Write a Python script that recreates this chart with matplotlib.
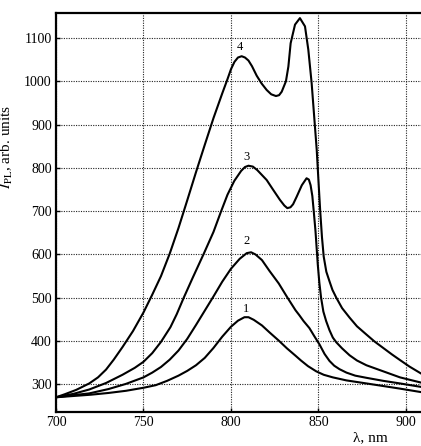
import matplotlib
matplotlib.use('Agg')
import matplotlib.pyplot as plt

plt.rcParams['font.family'] = ['Liberation Serif', 'DejaVu Serif']
plt.rcParams['mathtext.fontset'] = 'stix'
plt.rcParams['font.size'] = 10

# (wavelength nm, intensity arb. units)
x1 = [700, 710, 720, 730, 740, 750, 757, 763.5, 770, 775, 780, 785, 790, 795, 800, 804,
      807.7, 810, 813, 817.7, 822, 827.3, 832, 836.9, 840, 844, 848.7, 853, 858.2, 866,
      877.4, 887, 896.6, 908.6]
y1 = [270, 273, 276, 280, 285, 292, 298, 308, 320, 331, 344, 361, 384, 410, 433, 447,
      455, 455, 449, 436, 420, 401, 383, 366, 355, 342, 330, 322, 316, 309,
      302, 296, 290, 282]

x2 = [700, 710, 719, 730, 740, 750, 755, 760, 765, 770, 775, 780, 785, 790, 795, 800,
      805, 809, 811.5, 814, 817.7, 822, 827.3, 832, 836.9, 839, 841.5, 844.8, 847.5, 850.6,
      853.5, 856.3, 859, 862, 866, 871, 877.4, 887, 896.6, 908.6]
y2 = [270, 275, 279, 289, 301, 316, 327, 340, 357, 378, 405, 437, 470, 503, 537, 567,
      590, 603, 605, 600, 587, 562, 533, 502, 471, 460, 446, 430, 412, 392,
      370, 354, 343, 335, 327, 320, 315, 308, 302, 294]

x3 = [700, 710, 719, 728.6, 738, 745, 750, 755, 760, 765.4, 769, 773, 778, 784.6, 790, 794.2,
      798, 801.9, 805.8, 808, 810, 812.5, 815, 820.4, 824, 828, 830.5, 832.2, 834, 835.5,
      837.5, 840.5, 843.2, 844.5, 845.5, 846.5, 847.3, 848.3, 849.6, 850.5, 851.5, 852.8,
      854.4, 856.3, 858.2, 860.2, 863.5, 867.8, 872, 877.4, 887, 896.6, 908.6]
y3 = [270, 278, 288, 303, 322, 338, 352, 372, 398, 432, 462, 500, 545, 603, 652, 698,
      738, 770, 793, 802, 805, 803, 795, 772, 750, 726, 713, 707, 709, 716,
      733, 760, 776, 773, 760, 735, 700, 654, 577, 535, 500, 468,
      446, 425, 408, 397, 383, 367, 355, 344, 330, 316, 304]

x4 = [700, 705, 711.5, 719, 724, 728.6, 733, 738, 744, 750, 755, 760, 765, 770, 775, 780,
      785, 790, 795, 798, 800, 802, 804, 806.1, 808, 810, 812, 814.7,
      817.5, 820.4, 823, 825.7, 827.5, 829, 831.4, 832.8, 834.1, 836.6, 839.4, 842.3, 844.2,
      846.1, 848, 849, 850, 851, 852, 853, 854.5, 856.3, 858, 860.2, 863.5, 867.8, 872,
      877.4, 882, 887, 892, 896.6, 902, 908.6]
y4 = [270, 277, 287, 302, 316, 334, 357, 386, 423, 466, 507, 550, 602, 661, 725, 790,
      853, 915, 972, 1005, 1028, 1045, 1055, 1058, 1055, 1048, 1035, 1013,
      995, 980, 970, 966, 968, 976, 1000, 1034, 1088, 1131, 1146, 1127, 1073,
      996, 895, 842, 770, 700, 640, 595, 560, 538, 518, 500, 476, 454, 434,
      415, 399, 384, 369, 356, 341, 325]

curve_labels = ['1', '2', '3', '4']
label_pos = [(808.6, 475), (809, 631), (809, 826), (805, 1080)]

xticks = [700, 750, 800, 850, 900]
yticks = [300, 400, 500, 600, 700, 800, 900, 1000, 1100]

fig = plt.figure(figsize=(4.21, 4.46), dpi=100)
ax = fig.add_axes([56/421, 34/446, 365/421, 399.5/446])

for xs, ys in [(x1, y1), (x2, y2), (x3, y3), (x4, y4)]:
    ax.plot(xs, ys, color='black', lw=1.5, solid_joinstyle='round')

for t, (lx, ly) in zip(curve_labels, label_pos):
    ax.text(lx, ly, t, ha='center', va='center', fontsize=9)

ax.set_xlim(700, 908.6)
ax.set_ylim(236, 1159)
ax.set_xticks(xticks)
ax.set_yticks(yticks)
ax.grid(True, color='#222222', linestyle=(0, (1, 1.2)), lw=0.8)
ax.tick_params(direction='in', length=3, width=1, pad=3)

for s in ['left', 'bottom', 'top']:
    ax.spines[s].set_linewidth(1.6)
ax.spines['right'].set_visible(False)

ax.set_ylabel(r'$I_{\rm PL}$, arb. units', fontsize=11)
ax.yaxis.set_label_coords(-0.112, 0.664)
fig.text(370/421, 1 - 438/446, 'λ, nm', ha='center', va='center', fontsize=11)

plt.savefig('out.png', dpi=100)
